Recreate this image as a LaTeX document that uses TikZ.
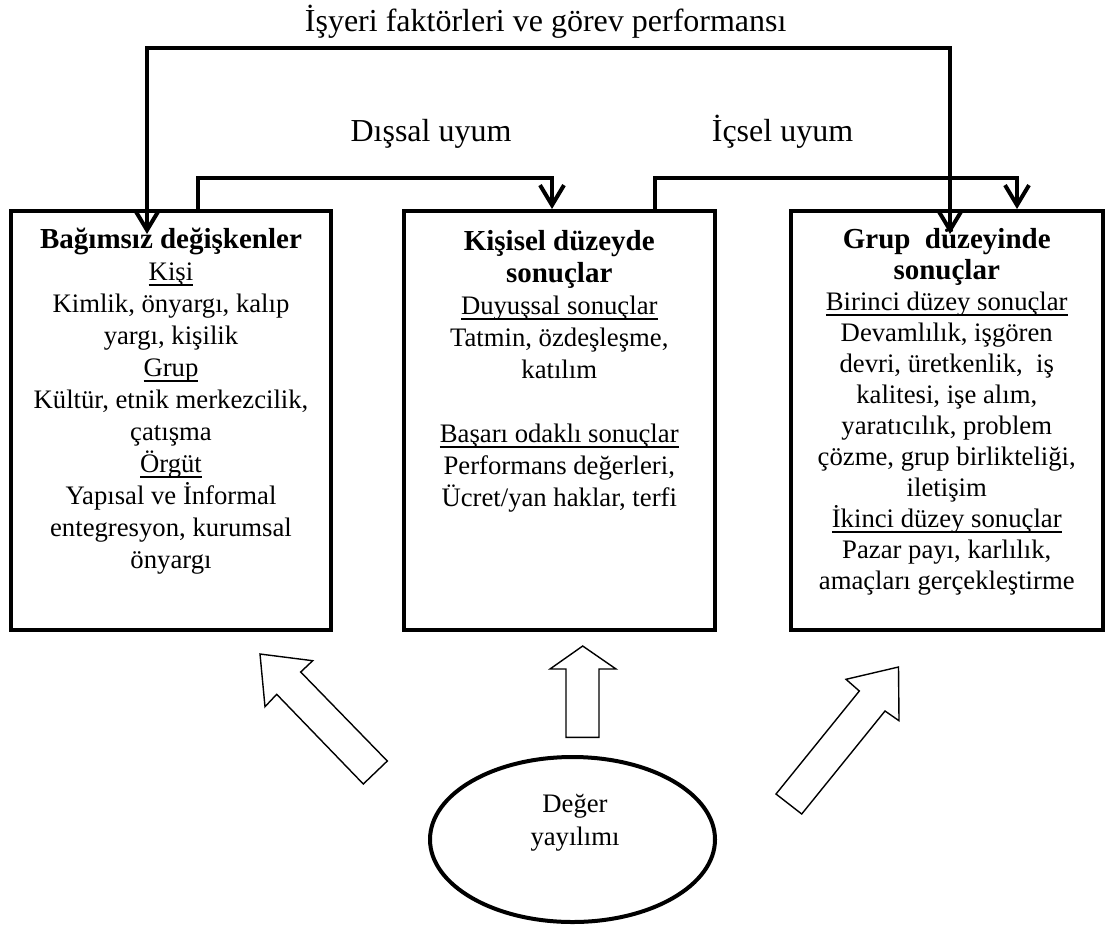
\documentclass[tikz,border=0pt]{standalone}
\usepackage{fontspec}
\setmainfont{Liberation Serif}
\usetikzlibrary{arrows.meta,calc,shapes.geometric}

% underline drawn at a fixed depth below the baseline
\newlength\ulwd
\newcommand\ulx[1]{\leavevmode\settowidth\ulwd{#1}\rlap{\rule[-5.5pt]{\ulwd}{1.8pt}}#1}
\newcommand\boxtitle{\fontsize{29}{32}\selectfont\bfseries}
\newcommand\boxbody{\fontsize{26.7}{32}\selectfont\mdseries}
\newcommand\firstline{\rule{0pt}{24pt}}

\begin{document}
\begin{tikzpicture}[x=1pt,y=-1pt,
  box/.style={draw, rectangle, line width=4pt, inner sep=0pt, outer sep=0pt, minimum height=419.5pt},
  boxtext/.style={anchor=north, inner sep=0pt, align=flush center, text width=304pt},
  lab/.style={anchor=base, inner sep=0pt, font=\fontsize{32}{38}\selectfont},
  link/.style={line width=4pt, -{Straight Barb[length=20pt,width=24pt]}},
  twolink/.style={line width=4pt, {Straight Barb[length=20pt,width=24pt]}-{Straight Barb[length=20pt,width=24pt]}},
  hollow/.style={draw, line width=1.4pt, fill=white, line join=miter}]

\fill[white] (0,0) rectangle (1107,926);
\useasboundingbox (0,0) rectangle (1107,926);

% the three boxes
\node[box, minimum width=320pt]   (L) at (171,420.25)    {};
\node[box, minimum width=310.5pt] (M) at (559.25,420.25) {};
\node[box, minimum width=311.5pt] (R) at (946.75,420.25) {};

\node[boxtext] (Ltext) at ([yshift=-13.5pt]L.north) {\boxtitle\firstline Bağımsız değişkenler\\
  \boxbody\ulx{Kişi}\\
  Kimlik, önyargı, kalıp\\
  yargı, kişilik\\
  \ulx{Grup}\\
  Kültür, etnik merkezcilik,\\
  çatışma\\
  \ulx{Örgüt}\\
  Yapısal ve İnformal\\
  entegresyon, kurumsal\\
  önyargı\par};

\node[boxtext] (Mtext) at ([yshift=-15.5pt]M.north) {\boxtitle\firstline Kişisel düzeyde\\
  sonuçlar\\
  \boxbody\ulx{Duyuşsal sonuçlar}\\
  Tatmin, özdeşleşme,\\
  katılım\\[32pt]
  \ulx{Başarı odaklı sonuçlar}\\
  Performans değerleri,\\
  Ücret/yan haklar, terfi\par};

\node[boxtext] (Rtext) at ([yshift=-13.5pt]R.north) {\fontsize{29}{31}\selectfont\bfseries\firstline Grup~~düzeyinde\\
  sonuçlar\\
  \fontsize{26.7}{31}\selectfont\mdseries\ulx{Birinci düzey sonuçlar}\\
  Devamlılık, işgören\\
  devri, üretkenlik,~~iş\\
  kalitesi, işe alım,\\
  yaratıcılık, problem\\
  çözme, grup birlikteliği,\\
  iletişim\\
  \ulx{İkinci düzey sonuçlar}\\
  Pazar payı, karlılık,\\
  amaçları gerçekleştirme\par};

% labels above the connectors
\node[lab] (toplab) at (545.7,31.7)  {İşyeri faktörleri ve görev performansı};
\node[lab] (dislab) at (431,141.7)   {Dışsal uyum};
\node[lab] (iclab)  at (782.5,141.7) {İçsel uyum};

% connectors between the boxes
\draw[twolink] ([xshift=-24pt,yshift=-23.5pt]L.north) -- ++(0,-186.5)
  -| ([xshift=3.25pt,yshift=-23.5pt]R.north);
\draw[link] ([xshift=27pt]L.north) -- ++(0,-32.5) -| ([xshift=-7.25pt,yshift=1.5pt]M.north);
\draw[link] ([xshift=95.75pt]M.north) -- ++(0,-32.5) -| ([xshift=70.25pt,yshift=1.5pt]R.north);

% value spread ellipse
\node[draw, ellipse, line width=4pt, inner sep=0pt, outer sep=0pt,
      minimum width=285pt, minimum height=165pt] (E) at (572.5,839.5) {};
\node[anchor=north, inner sep=0pt, align=flush center, text width=200pt] (Etext)
  at ([xshift=2.5pt,yshift=51.5pt]E.center)
  {\fontsize{26.7}{33}\selectfont\firstline Değer\\ yayılımı\par};

% hollow block arrows pointing to the boxes
\draw[hollow] (260,654) -- (312.7,660.7) -- (300.7,672) -- (387.3,761)
  -- (363.3,784) -- (276.7,694.3) -- (265,706.7) -- cycle;
\draw[hollow] (582.7,646) -- (616,669) -- (599,669) -- (599,737.3)
  -- (566,737.3) -- (566,669) -- (550,669) -- cycle;
\draw[hollow] (898.5,667) -- (899,720.7) -- (885,711) -- (801.7,814)
  -- (776,794) -- (859.3,691) -- (846,679.3) -- cycle;
\end{tikzpicture}
\end{document}
